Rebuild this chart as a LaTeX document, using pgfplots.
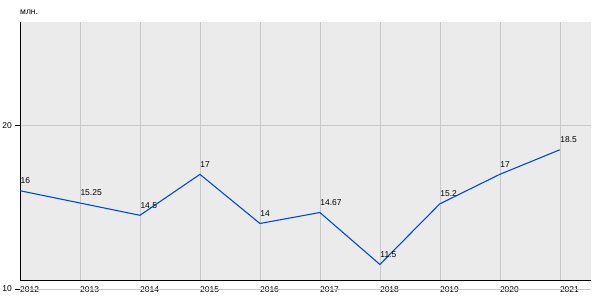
\documentclass[border=0pt]{standalone}
\usepackage{pgfplots}
\pgfplotsset{compat=1.18}
\usepackage{fontspec}
\setmainfont{Liberation Sans}
\definecolor{bgcol}{RGB}{235,235,235}
\definecolor{gridcol}{RGB}{200,200,200}
\definecolor{linecol}{RGB}{0,72,228}
\begin{document}
\begin{tikzpicture}
\begin{axis}[
  scale only axis,
  width=571bp, height=258bp,
  at={(0,0)}, anchor=south west,
  xmin=0, xmax=9.52,
  ymin=10.55, ymax=26.3,
  axis background/.style={fill=bgcol},
  axis x line*=bottom, axis y line*=left,
  axis line style={black, line width=0.8pt, -},
  xtick={0,...,9},
  ytick={20},
  xticklabels={2012,2013,2014,2015,2016,2017,2018,2019,2020,2021},
  xmajorgrids, ymajorgrids,
  grid style={gridcol, line width=0.6pt},
  x tick style={draw=none},
  y tick style={black, line width=0.6pt},
  tick align=outside,
  major tick length=5bp,
  /pgf/number format/assume math mode=true,
  tick label style={font=\fontsize{8.5}{10}\selectfont},
  xticklabel style={anchor=west, inner sep=0pt, yshift=-5bp},
  yticklabel style={anchor=east, inner sep=0pt, xshift=-3bp},
  clip=false,
  nodes near coords,
  point meta=explicit symbolic,
  every node near coord/.append style={anchor=west, inner sep=0pt, yshift=10bp, font=\fontsize{8.5}{10}\selectfont, text=black},
]
\addplot[linecol, line width=1.1pt, mark=none] table[meta=lab] {
x y lab
0 16 16
1 15.25 15.25
2 14.5 14.5
3 17 17
4 14 14
5 14.67 14.67
6 11.5 11.5
7 15.2 15.2
8 17 17
9 18.5 18.5
};
\coordinate (ten) at (axis cs:0,10);
\coordinate (tenr) at (axis cs:9.52,10);
\coordinate (topl) at (axis cs:0,26.3);
\end{axis}
\draw[gridcol, line width=0.6pt] (ten) -- (tenr);
\draw[black, line width=0.6pt] (ten) -- ++(-5bp,0);
\node[anchor=east, inner sep=0pt, font=\fontsize{8.5}{10}\selectfont] at ([xshift=-8bp]ten) {10};
\node[anchor=south west, inner sep=0pt, font=\fontsize{8.5}{10}\selectfont] at ([yshift=7bp]topl) {млн.};
\pgfresetboundingbox
\path (-20bp,-20bp) rectangle (580bp,280bp);
\end{tikzpicture}
\end{document}
